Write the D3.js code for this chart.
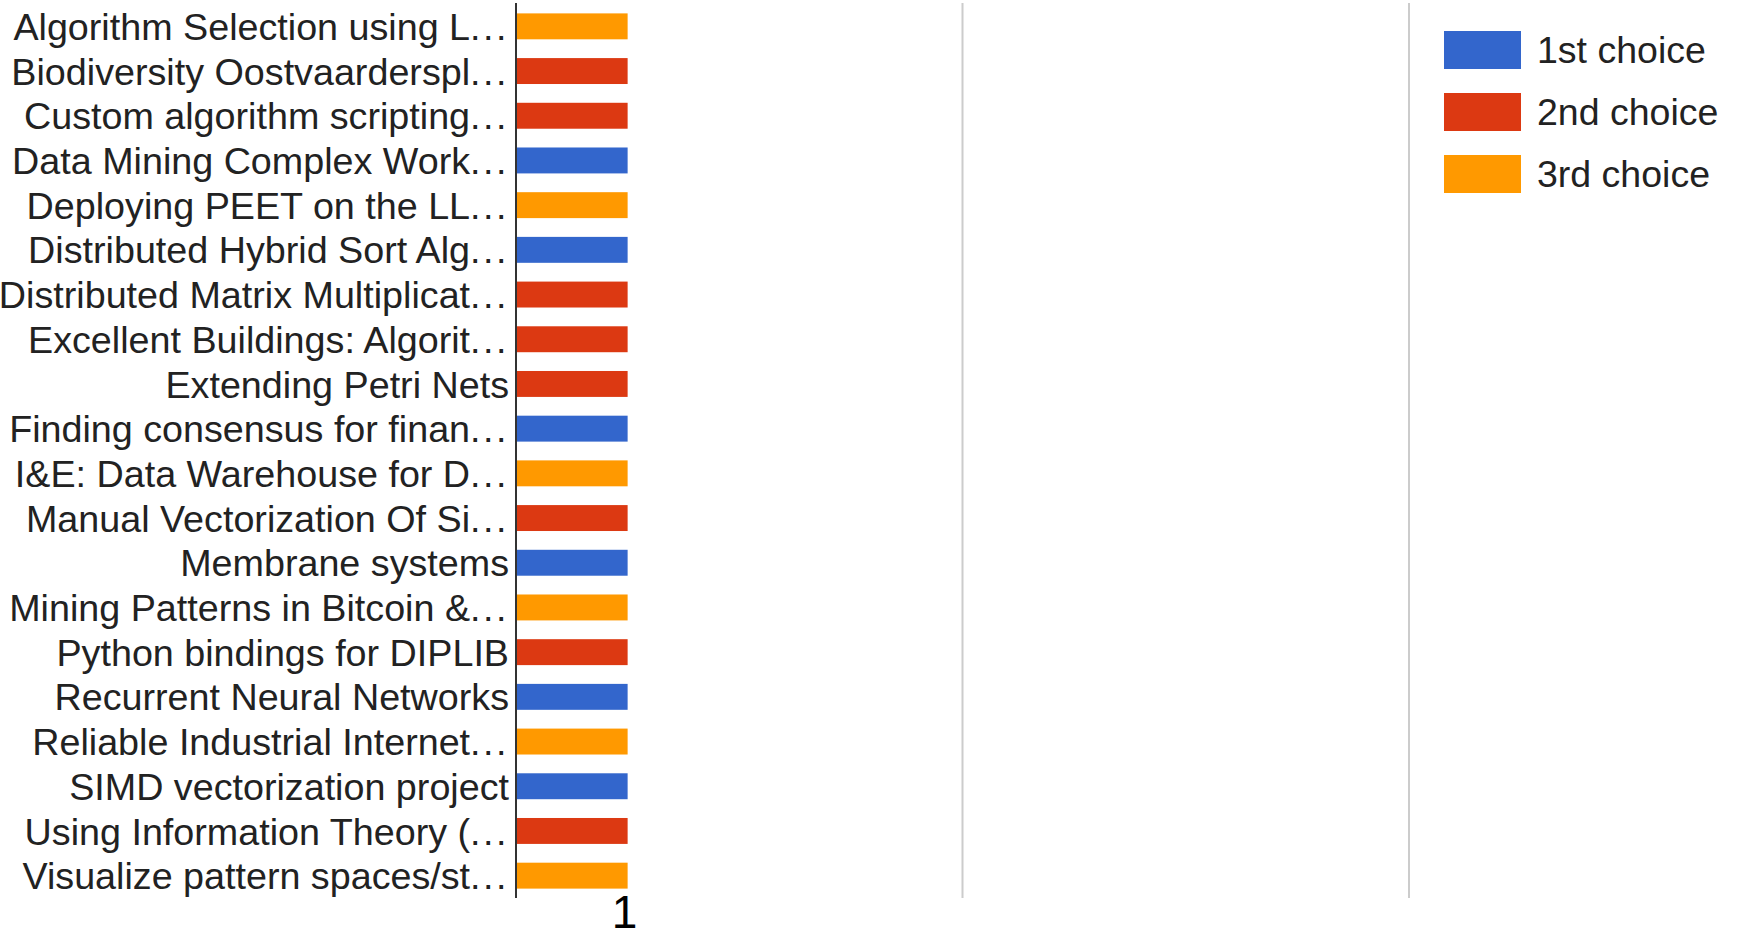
<!DOCTYPE html>
<html>
<head>
<meta charset="utf-8">
<script src="https://cdn.jsdelivr.net/npm/d3@7"></script>
<style>
  body { margin: 0; background: #fff; }
  text { font-family: "Liberation Sans", Arial, sans-serif; }
</style>
</head>
<body>
<div id="chart"></div>
<script>
// project names as shown (truncated by the chart)
const categories = [
  "Algorithm Selection using L…",
  "Biodiversity Oostvaarderspl…",
  "Custom algorithm scripting…",
  "Data Mining Complex Work…",
  "Deploying PEET on the LL…",
  "Distributed Hybrid Sort Alg…",
  "Distributed Matrix Multiplicat…",
  "Excellent Buildings: Algorit…",
  "Extending Petri Nets",
  "Finding consensus for finan…",
  "I&E: Data Warehouse for D…",
  "Manual Vectorization Of Si…",
  "Membrane systems",
  "Mining Patterns in Bitcoin &…",
  "Python bindings for DIPLIB",
  "Recurrent Neural Networks",
  "Reliable Industrial Internet…",
  "SIMD vectorization project",
  "Using Information Theory (…",
  "Visualize pattern spaces/st…"
];

const seriesNames = ["1st choice", "2nd choice", "3rd choice"];
const firstChoice  = [0,0,0,1,0,1,0,0,0,1,0,0,1,0,0,1,0,1,0,0];
const secondChoice = [0,1,1,0,0,0,1,1,1,0,0,1,0,0,1,0,0,0,1,0];
const thirdChoice  = [1,0,0,0,1,0,0,0,0,0,1,0,0,1,0,0,1,0,0,1];
const xTicks = [1];
const gridValues = [4, 8];

const colors = ["#3366cc", "#dc3912", "#ff9900"];

const width = 1738, height = 933;
const margin = { left: 516, top: 4, bottom: 898 };

const svg = d3.select("#chart").append("svg")
  .attr("width", width)
  .attr("height", height);

const rows = categories.map((c, i) => ({
  name: c,
  "1st choice": firstChoice[i],
  "2nd choice": secondChoice[i],
  "3rd choice": thirdChoice[i]
}));

const stacked = d3.stack().keys(seriesNames)(rows);

const x = d3.scaleLinear().domain([0, 8]).range([margin.left, margin.left + 893]);

const y = d3.scaleBand()
  .domain(categories)
  .range([margin.top, margin.bottom])
  .paddingInner(0.42)
  .paddingOuter(0.21);

// gridlines
svg.append("g")
  .selectAll("line")
  .data(gridValues)
  .join("line")
  .attr("x1", d => x(d)).attr("x2", d => x(d))
  .attr("y1", margin.top - 1).attr("y2", margin.bottom)
  .attr("stroke", "#cccccc")
  .attr("stroke-width", 2);

// bars
svg.append("g")
  .selectAll("g")
  .data(stacked)
  .join("g")
  .attr("fill", (d, i) => colors[i])
  .selectAll("rect")
  .data(d => d.filter(v => v[1] > v[0]))
  .join("rect")
  .attr("x", d => x(d[0]))
  .attr("y", d => y(d.data.name))
  .attr("width", d => x(d[1]) - x(d[0]))
  .attr("height", y.bandwidth());

// category labels; the chart's ellipsis is drawn as spaced dots
const labels = svg.append("g")
  .selectAll("text")
  .data(categories)
  .join("text")
  .attr("x", margin.left - 7)
  .attr("y", d => y(d) + y.bandwidth() / 2)
  .attr("dy", "0.36em")
  .attr("text-anchor", "end")
  .attr("font-size", 37.7)
  .attr("fill", "#222222");

labels.each(function(d) {
  const t = d3.select(this);
  if (d.endsWith("…")) {
    t.append("tspan").text(d.slice(0, -1));
    t.append("tspan").attr("letter-spacing", 2.5).text("...");
  } else {
    t.text(d);
  }
});

// vertical axis line
svg.append("line")
  .attr("x1", margin.left).attr("x2", margin.left)
  .attr("y1", margin.top - 1).attr("y2", margin.bottom)
  .attr("stroke", "#333333")
  .attr("stroke-width", 2);

// x tick label
svg.append("g")
  .selectAll("text")
  .data(xTicks)
  .join("text")
  .attr("x", d => x(d) - 3)
  .attr("y", 928)
  .attr("text-anchor", "middle")
  .attr("font-size", 46)
  .attr("fill", "#000000")
  .text(d => d);

// legend
const legend = svg.append("g").attr("transform", "translate(1444,31)");
seriesNames.forEach((name, i) => {
  legend.append("rect")
    .attr("x", 0)
    .attr("y", i * 62)
    .attr("width", 77)
    .attr("height", 38)
    .attr("fill", colors[i]);
  legend.append("text")
    .attr("x", 93)
    .attr("y", i * 62 + 18)
    .attr("dy", "0.36em")
    .attr("font-size", 37.5)
    .attr("fill", "#222222")
    .text(name);
});
</script>
</body>
</html>
